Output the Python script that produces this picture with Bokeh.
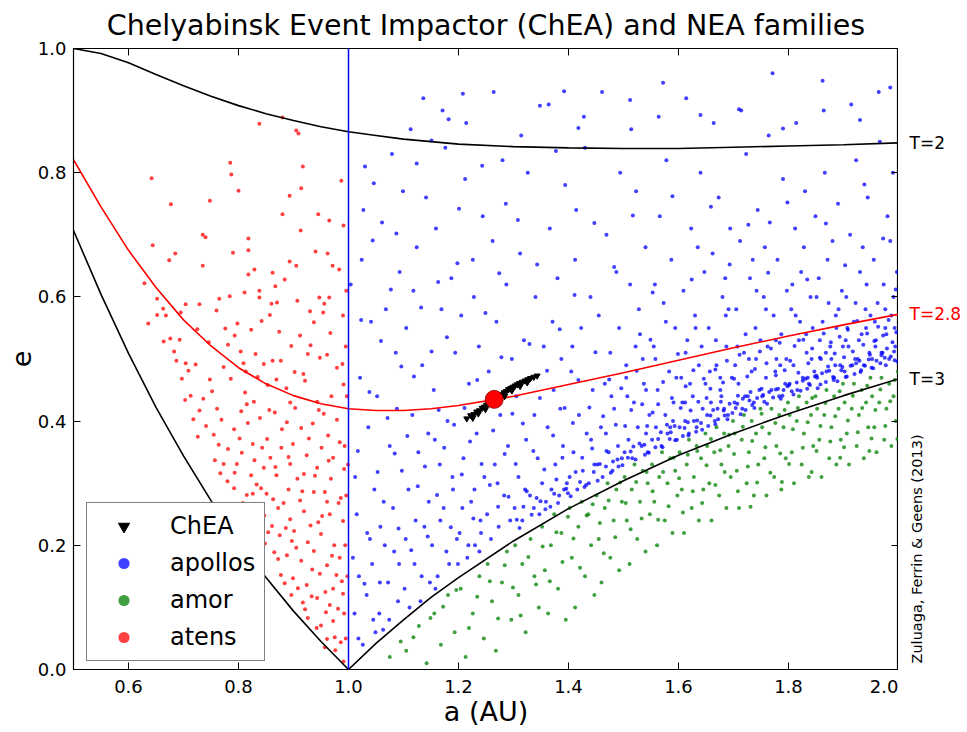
import math
from bokeh.plotting import figure
from bokeh.layouts import row
from bokeh.models import Span, Label, Legend, LegendItem, LinearAxis, FixedTicker, PrintfTickFormatter
from bokeh.embed import file_html
from bokeh.resources import INLINE

FONT = "DejaVu Sans"

title_text = "Chelyabinsk Event Impactor (ChEA) and NEA families"
x_label = "a (AU)"
y_label = "e"
credit_text = "Zuluaga, Ferrin & Geens (2013)"
x_ticks = [0.6, 0.8, 1.0, 1.2, 1.4, 1.6, 1.8, 2.0]
y_ticks = [0.0, 0.2, 0.4, 0.6, 0.8, 1.0]
curve_names = ["T=2", "T=2.8", "T=3"]

# Tisserand curves
curve_a = [0.50, 0.55, 0.60, 0.65, 0.70, 0.75, 0.80, 0.85, 0.90, 0.95, 1.00, 1.05, 1.10, 1.15,
           1.20, 1.30, 1.40, 1.50, 1.60, 1.70, 1.80, 1.90, 2.00]
t2_e = [1.000, 0.992, 0.977, 0.958, 0.940, 0.923, 0.908, 0.895, 0.884, 0.874, 0.866, 0.860, 0.854, 0.850,
        0.846, 0.842, 0.840, 0.839, 0.839, 0.841, 0.843, 0.845, 0.848]
t28_e = [0.821, 0.745, 0.675, 0.615, 0.563, 0.521, 0.486, 0.460, 0.441, 0.428, 0.420, 0.417, 0.417, 0.420,
         0.425, 0.440, 0.459, 0.478, 0.498, 0.518, 0.537, 0.555, 0.572]
t3_e = [0.707, 0.604, 0.509, 0.422, 0.344, 0.272, 0.207, 0.148, 0.094, 0.045, 0.000, 0.042, 0.080, 0.116,
        0.148, 0.207, 0.259, 0.304, 0.345, 0.380, 0.412, 0.441, 0.468]

# Chelyabinsk impactor (ChEA) orbital solutions and nominal orbit
chea_pts = [(1.215, 0.404), (1.222, 0.409), (1.226, 0.405), (1.228, 0.411), (1.233, 0.415), (1.236, 0.412),
            (1.238, 0.417), (1.243, 0.421), (1.247, 0.423), (1.249, 0.419), (1.251, 0.426), (1.255, 0.428),
            (1.259, 0.431), (1.262, 0.428), (1.263, 0.433), (1.267, 0.436), (1.271, 0.438), (1.275, 0.441),
            (1.279, 0.443), (1.283, 0.446), (1.284, 0.440), (1.287, 0.448), (1.291, 0.451), (1.295, 0.453),
            (1.297, 0.449), (1.299, 0.455), (1.303, 0.457), (1.307, 0.459), (1.311, 0.461), (1.312, 0.456),
            (1.316, 0.463), (1.321, 0.465), (1.325, 0.462), (1.326, 0.467), (1.331, 0.469), (1.337, 0.471),
            (1.343, 0.473)]
chea_nominal_a = [1.265]
chea_nominal_e = [0.435]

apollo_pts = [
    (1.004, 0.62), (1.012, 0.31), (1.018, 0.05), (1.021, 0.47), (1.008, 0.18), (1.027, 0.74), (1.033, 0.12),
    (1.036, 0.39), (1.041, 0.56), (1.015, 0.25), (1.045, 0.08), (1.03, 0.81), (1.047, 0.29), (1.024, 0.66),
    (1.039, 0.21),
    (1.052, 0.44), (1.056, 0.09), (1.061, 0.72), (1.064, 0.27), (1.068, 0.58), (1.072, 0.14), (1.075, 0.36),
    (1.079, 0.83), (1.083, 0.19), (1.086, 0.51), (1.09, 0.11), (1.093, 0.64), (1.097, 0.32), (1.058, 0.23),
    (1.088, 0.42), (1.099, 0.77),
    (1.102, 0.13), (1.105, 0.55), (1.109, 0.29), (1.113, 0.87), (1.116, 0.41), (1.12, 0.17), (1.124, 0.68),
    (1.127, 0.35), (1.131, 0.11), (1.134, 0.49), (1.138, 0.23), (1.141, 0.76), (1.145, 0.38), (1.148, 0.14),
    (1.118, 0.61), (1.136, 0.92),
    (1.152, 0.2), (1.155, 0.45), (1.159, 0.71), (1.162, 0.15), (1.166, 0.33), (1.169, 0.58), (1.173, 0.26),
    (1.176, 0.84), (1.18, 0.4), (1.183, 0.17), (1.187, 0.63), (1.19, 0.29), (1.194, 0.51), (1.197, 0.21),
    (1.171, 0.9), (1.157, 0.37),
    (1.202, 0.22), (1.205, 0.57), (1.209, 0.34), (1.212, 0.79), (1.216, 0.18), (1.219, 0.46), (1.223, 0.27),
    (1.226, 0.66), (1.23, 0.2), (1.233, 0.38), (1.237, 0.52), (1.24, 0.24), (1.244, 0.73), (1.247, 0.31),
    (1.214, 0.88), (1.238, 0.19), (1.228, 0.6),
    (1.252, 0.25), (1.255, 0.48), (1.259, 0.21), (1.262, 0.69), (1.266, 0.33), (1.269, 0.56), (1.273, 0.23),
    (1.276, 0.41), (1.28, 0.82), (1.283, 0.28), (1.287, 0.62), (1.29, 0.36), (1.294, 0.24), (1.297, 0.5),
    (1.264, 0.93), (1.286, 0.75), (1.271, 0.3),
    (1.302, 0.26), (1.305, 0.44), (1.309, 0.31), (1.312, 0.67), (1.316, 0.24), (1.319, 0.53), (1.323, 0.37),
    (1.326, 0.8), (1.33, 0.28), (1.333, 0.47), (1.337, 0.26), (1.34, 0.6), (1.344, 0.34), (1.347, 0.25),
    (1.314, 0.86), (1.338, 0.41), (1.321, 0.29),
    (1.352, 0.3), (1.355, 0.52), (1.359, 0.27), (1.362, 0.39), (1.366, 0.71), (1.369, 0.29), (1.373, 0.45),
    (1.376, 0.33), (1.38, 0.63), (1.383, 0.28), (1.387, 0.5), (1.39, 0.36), (1.394, 0.78), (1.397, 0.3),
    (1.364, 0.91), (1.385, 0.42), (1.371, 0.56), (1.392, 0.29),
    (1.402, 0.31), (1.405, 0.48), (1.409, 0.35), (1.412, 0.66), (1.416, 0.29), (1.419, 0.41), (1.423, 0.55),
    (1.426, 0.32), (1.43, 0.84), (1.433, 0.38), (1.437, 0.3), (1.44, 0.6), (1.444, 0.45), (1.447, 0.33),
    (1.414, 0.74), (1.428, 0.89), (1.441, 0.37), (1.407, 0.52),
    (1.452, 0.33), (1.455, 0.57), (1.459, 0.39), (1.462, 0.31), (1.466, 0.46), (1.469, 0.7), (1.473, 0.35),
    (1.476, 0.51), (1.48, 0.32), (1.483, 0.42), (1.487, 0.64), (1.49, 0.36), (1.494, 0.8), (1.497, 0.34),
    (1.461, 0.93), (1.478, 0.44), (1.492, 0.55), (1.468, 0.38),
    (1.502, 0.35), (1.505, 0.49), (1.509, 0.37), (1.512, 0.62), (1.516, 0.34), (1.519, 0.43), (1.523, 0.77),
    (1.526, 0.39), (1.53, 0.54), (1.533, 0.36), (1.537, 0.46), (1.54, 0.68), (1.544, 0.35), (1.547, 0.41),
    (1.514, 0.87), (1.528, 0.58), (1.541, 0.38), (1.507, 0.44), (1.535, 0.5),
    (1.552, 0.37), (1.555, 0.52), (1.559, 0.39), (1.562, 0.45), (1.566, 0.73), (1.569, 0.36), (1.573, 0.59),
    (1.576, 0.41), (1.58, 0.38), (1.583, 0.48), (1.587, 0.66), (1.59, 0.4), (1.594, 0.55), (1.597, 0.37),
    (1.564, 0.89), (1.578, 0.82), (1.591, 0.43), (1.557, 0.62), (1.585, 0.39),
    (1.602, 0.39), (1.605, 0.47), (1.609, 0.61), (1.612, 0.4), (1.616, 0.53), (1.619, 0.38), (1.623, 0.71),
    (1.626, 0.44), (1.63, 0.57), (1.633, 0.39), (1.637, 0.49), (1.64, 0.8), (1.644, 0.42), (1.647, 0.64),
    (1.614, 0.92), (1.628, 0.4), (1.642, 0.52), (1.607, 0.43), (1.635, 0.68), (1.621, 0.46),
    (1.652, 0.41), (1.655, 0.55), (1.659, 0.43), (1.662, 0.67), (1.666, 0.4), (1.669, 0.49), (1.673, 0.76),
    (1.676, 0.45), (1.68, 0.6), (1.683, 0.42), (1.687, 0.52), (1.69, 0.41), (1.694, 0.71), (1.697, 0.47),
    (1.664, 0.88), (1.678, 0.44), (1.691, 0.58), (1.657, 0.48), (1.685, 0.63), (1.671, 0.42),
    (1.702, 0.43), (1.705, 0.58), (1.709, 0.46), (1.712, 0.69), (1.716, 0.42), (1.719, 0.51), (1.723, 0.83),
    (1.726, 0.44), (1.73, 0.63), (1.733, 0.48), (1.737, 0.43), (1.74, 0.55), (1.744, 0.74), (1.747, 0.45),
    (1.714, 0.9), (1.728, 0.5), (1.742, 0.61), (1.707, 0.52), (1.735, 0.66), (1.721, 0.44), (1.749, 0.53),
    (1.752, 0.44), (1.755, 0.6), (1.759, 0.47), (1.762, 0.52), (1.766, 0.72), (1.769, 0.45), (1.773, 0.57),
    (1.776, 0.48), (1.78, 0.66), (1.783, 0.44), (1.787, 0.54), (1.79, 0.79), (1.794, 0.46), (1.797, 0.61),
    (1.764, 0.86), (1.778, 0.5), (1.791, 0.45), (1.757, 0.68), (1.785, 0.49), (1.771, 0.96),
    (1.802, 0.46), (1.805, 0.58), (1.809, 0.49), (1.812, 0.71), (1.816, 0.45), (1.819, 0.53), (1.823, 0.64),
    (1.826, 0.47), (1.83, 0.77), (1.833, 0.51), (1.837, 0.46), (1.84, 0.6), (1.844, 0.55), (1.847, 0.48),
    (1.814, 0.88), (1.828, 0.68), (1.842, 0.5), (1.807, 0.62), (1.835, 0.47), (1.821, 0.56), (1.849, 0.73),
    (1.852, 0.47), (1.855, 0.63), (1.859, 0.5), (1.862, 0.56), (1.866, 0.8), (1.869, 0.48), (1.873, 0.59),
    (1.876, 0.52), (1.88, 0.69), (1.883, 0.47), (1.887, 0.55), (1.89, 0.75), (1.894, 0.49), (1.897, 0.61),
    (1.864, 0.9), (1.878, 0.5), (1.891, 0.58), (1.857, 0.53), (1.885, 0.49), (1.871, 0.66), (1.899, 0.52),
    (1.902, 0.48), (1.905, 0.6), (1.909, 0.52), (1.912, 0.7), (1.916, 0.49), (1.919, 0.56), (1.923, 0.82),
    (1.926, 0.5), (1.93, 0.64), (1.933, 0.54), (1.937, 0.49), (1.94, 0.58), (1.944, 0.76), (1.947, 0.51),
    (1.914, 0.91), (1.928, 0.53), (1.942, 0.62), (1.907, 0.55), (1.935, 0.68), (1.921, 0.5), (1.949, 0.57),
    (1.952, 0.5), (1.955, 0.66), (1.959, 0.53), (1.962, 0.59), (1.966, 0.85), (1.969, 0.51), (1.973, 0.62),
    (1.976, 0.55), (1.98, 0.73), (1.983, 0.5), (1.987, 0.57), (1.99, 0.8), (1.994, 0.52), (1.997, 0.64),
    (1.964, 0.93), (1.978, 0.54), (1.991, 0.6), (1.957, 0.56), (1.985, 0.69), (1.971, 0.51),
    (1.306, 0.241), (1.318, 0.262), (1.333, 0.249), (1.349, 0.271), (1.358, 0.258), (1.374, 0.283),
    (1.381, 0.268), (1.396, 0.291), (1.404, 0.279), (1.421, 0.302), (1.429, 0.294), (1.446, 0.318),
    (1.453, 0.304), (1.468, 0.327), (1.477, 0.317), (1.489, 0.338), (1.498, 0.329), (1.513, 0.351),
    (1.522, 0.338), (1.538, 0.362), (1.546, 0.349), (1.563, 0.371), (1.571, 0.358), (1.586, 0.382),
    (1.594, 0.369), (1.611, 0.389), (1.618, 0.377), (1.634, 0.401), (1.643, 0.386), (1.658, 0.409),
    (1.667, 0.395), (1.682, 0.417), (1.689, 0.403), (1.707, 0.428), (1.713, 0.411), (1.729, 0.433),
    (1.738, 0.421), (1.754, 0.442), (1.761, 0.428), (1.777, 0.451), (1.786, 0.436), (1.801, 0.458),
    (1.809, 0.443), (1.826, 0.465), (1.834, 0.452), (1.851, 0.473), (1.858, 0.459), (1.874, 0.481),
    (1.882, 0.466), (1.898, 0.487), (1.906, 0.472), (1.923, 0.493), (1.931, 0.479), (1.946, 0.499),
    (1.954, 0.485), (1.969, 0.506), (1.977, 0.49), (1.992, 0.512), (1.998, 0.496),
    (1.011, 0.09), (1.019, 0.15), (1.026, 0.04), (1.034, 0.22), (1.043, 0.17), (1.049, 0.06), (1.057, 0.14),
    (1.066, 0.2), (1.074, 0.08), (1.081, 0.26), (1.092, 0.17), (1.104, 0.21), (1.111, 0.1), (1.122, 0.24),
    (1.133, 0.15), (1.146, 0.27), (1.158, 0.13), (1.167, 0.24), (1.178, 0.19), (1.189, 0.31), (1.199, 0.17),
    (1.207, 0.26), (1.218, 0.2), (1.229, 0.29), (1.241, 0.22),
    (1.505, 0.47), (1.522, 0.52), (1.541, 0.45), (1.558, 0.5), (1.577, 0.56), (1.596, 0.47), (1.613, 0.51),
    (1.631, 0.55), (1.649, 0.46), (1.668, 0.53), (1.686, 0.57), (1.703, 0.49), (1.722, 0.54), (1.741, 0.5),
    (1.759, 0.58), (1.777, 0.53), (1.796, 0.5), (1.813, 0.57), (1.832, 0.54), (1.851, 0.6), (1.868, 0.51),
    (1.886, 0.57), (1.904, 0.53), (1.922, 0.59), (1.941, 0.55), (1.958, 0.52), (1.976, 0.58), (1.993, 0.55),
    (1.612, 0.43), (1.676, 0.47),
    (1.017, 0.352), (1.023, 0.563), (1.029, 0.138), (1.038, 0.447), (1.044, 0.691), (1.053, 0.318),
    (1.059, 0.529), (1.063, 0.064), (1.071, 0.405), (1.077, 0.612), (1.084, 0.348), (1.091, 0.227),
    (1.096, 0.488), (1.107, 0.376), (1.114, 0.192), (1.119, 0.472), (1.126, 0.295), (1.132, 0.583),
    (1.139, 0.327), (1.144, 0.214), (1.151, 0.512), (1.161, 0.281), (1.164, 0.418), (1.174, 0.357),
    (1.179, 0.535), (1.186, 0.229), (1.192, 0.394), (1.198, 0.654), (1.206, 0.314), (1.211, 0.421),
    (1.221, 0.367), (1.227, 0.243), (1.234, 0.466), (1.242, 0.331), (1.249, 0.574), (1.257, 0.297),
    (1.263, 0.385), (1.272, 0.262), (1.278, 0.503), (1.284, 0.347), (1.291, 0.278), (1.298, 0.412),
    (1.304, 0.331), (1.311, 0.228), (1.317, 0.396), (1.324, 0.287), (1.329, 0.524), (1.336, 0.352),
    (1.342, 0.276), (1.348, 0.437), (1.356, 0.322), (1.361, 0.481), (1.367, 0.262), (1.372, 0.377),
    (1.378, 0.306), (1.384, 0.548), (1.389, 0.341), (1.393, 0.421), (1.399, 0.284), (1.408, 0.397),
    (1.413, 0.318), (1.418, 0.466), (1.425, 0.341), (1.432, 0.297), (1.438, 0.422), (1.443, 0.356),
    (1.449, 0.511), (1.457, 0.331), (1.463, 0.408), (1.469, 0.352), (1.474, 0.467), (1.481, 0.335),
    (1.486, 0.394), (1.491, 0.327), (1.496, 0.453), (1.503, 0.392), (1.508, 0.341), (1.514, 0.418),
    (1.518, 0.359), (1.524, 0.481), (1.529, 0.364), (1.534, 0.427), (1.539, 0.346), (1.543, 0.392),
    (1.549, 0.531), (1.553, 0.414), (1.558, 0.358), (1.563, 0.427), (1.568, 0.382), (1.572, 0.463),
    (1.579, 0.394), (1.584, 0.371), (1.588, 0.437), (1.593, 0.392), (1.599, 0.508), (1.604, 0.421),
    (1.608, 0.376), (1.613, 0.456), (1.617, 0.398), (1.622, 0.417), (1.627, 0.482), (1.632, 0.383),
    (1.636, 0.431), (1.641, 0.397), (1.646, 0.468), (1.651, 0.437), (1.654, 0.392), (1.658, 0.452),
    (1.663, 0.418), (1.667, 0.483), (1.672, 0.403), (1.677, 0.431), (1.681, 0.462), (1.684, 0.409),
    (1.688, 0.497), (1.693, 0.428), (1.698, 0.413), (1.701, 0.468), (1.704, 0.421), (1.708, 0.441),
    (1.711, 0.507), (1.717, 0.436), (1.722, 0.418), (1.725, 0.472), (1.731, 0.447), (1.734, 0.426),
    (1.739, 0.484), (1.743, 0.437), (1.748, 0.512), (1.751, 0.452), (1.756, 0.431), (1.76, 0.493),
    (1.765, 0.447), (1.768, 0.517), (1.772, 0.438), (1.777, 0.474), (1.781, 0.452), (1.784, 0.526),
    (1.789, 0.441), (1.793, 0.482), (1.798, 0.456), (1.803, 0.497), (1.806, 0.448), (1.811, 0.521),
    (1.815, 0.462), (1.818, 0.478), (1.822, 0.449), (1.827, 0.531), (1.831, 0.468), (1.836, 0.493),
    (1.839, 0.458), (1.843, 0.517), (1.848, 0.472), (1.853, 0.453), (1.857, 0.502), (1.861, 0.477),
    (1.864, 0.541), (1.868, 0.463), (1.872, 0.488), (1.877, 0.527), (1.881, 0.471), (1.884, 0.509),
    (1.889, 0.464), (1.893, 0.536), (1.896, 0.482), (1.901, 0.503), (1.904, 0.471), (1.908, 0.547),
    (1.913, 0.489), (1.917, 0.512), (1.92, 0.476), (1.925, 0.561), (1.929, 0.497), (1.932, 0.482),
    (1.936, 0.523), (1.939, 0.489), (1.943, 0.541), (1.948, 0.507), (1.951, 0.486), (1.956, 0.529),
    (1.96, 0.497), (1.963, 0.552), (1.967, 0.493), (1.972, 0.538), (1.975, 0.502), (1.979, 0.517),
    (1.982, 0.563), (1.986, 0.504), (1.989, 0.527), (1.993, 0.498), (1.996, 0.543),
    (1.046, 0.783), (1.087, 0.702), (1.124, 0.815), (1.163, 0.624), (1.201, 0.742), (1.243, 0.811),
    (1.274, 0.638), (1.308, 0.724), (1.343, 0.652), (1.377, 0.835), (1.411, 0.603), (1.447, 0.719),
    (1.483, 0.648), (1.517, 0.731), (1.553, 0.607), (1.589, 0.762), (1.624, 0.628), (1.659, 0.745),
    (1.693, 0.652), (1.727, 0.716), (1.763, 0.639), (1.798, 0.752), (1.834, 0.628), (1.868, 0.718),
    (1.903, 0.651), (1.938, 0.781), (1.972, 0.694), (1.995, 0.612), (1.392, 0.931), (1.572, 0.945),
    (1.862, 0.948), (1.151, 0.852), (1.182, 0.886), (1.208, 0.927), (1.348, 0.908), (1.418, 0.872),
    (1.512, 0.917), (1.64, 0.893), (1.71, 0.902), (1.79, 0.871), (1.93, 0.885), (1.985, 0.937),
]

amor_pts = [
    (1.075, 0.02), (1.095, 0.045),
    (1.105, 0.03), (1.128, 0.07), (1.142, 0.01),
    (1.156, 0.09), (1.168, 0.04), (1.181, 0.12), (1.193, 0.06),
    (1.204, 0.13), (1.213, 0.02), (1.226, 0.09), (1.238, 0.15), (1.246, 0.05),
    (1.253, 0.17), (1.261, 0.11), (1.268, 0.03), (1.279, 0.14), (1.288, 0.19), (1.296, 0.08),
    (1.303, 0.2), (1.309, 0.12), (1.316, 0.17), (1.322, 0.06), (1.331, 0.21), (1.338, 0.15), (1.346, 0.1),
    (1.352, 0.23), (1.357, 0.16), (1.363, 0.09), (1.368, 0.2), (1.374, 0.25), (1.381, 0.13), (1.387, 0.22),
    (1.395, 0.08),
    (1.402, 0.26), (1.406, 0.18), (1.412, 0.1), (1.418, 0.23), (1.424, 0.27), (1.43, 0.15), (1.436, 0.25),
    (1.441, 0.2), (1.447, 0.12),
    (1.451, 0.28), (1.455, 0.21), (1.46, 0.14), (1.466, 0.26), (1.471, 0.3), (1.476, 0.18), (1.482, 0.24),
    (1.487, 0.29), (1.492, 0.16), (1.497, 0.27),
    (1.502, 0.31), (1.506, 0.24), (1.511, 0.17), (1.515, 0.29), (1.52, 0.33), (1.525, 0.21), (1.53, 0.27),
    (1.535, 0.32), (1.54, 0.19), (1.544, 0.3), (1.548, 0.25),
    (1.552, 0.33), (1.556, 0.27), (1.561, 0.2), (1.565, 0.31), (1.57, 0.35), (1.575, 0.24), (1.58, 0.3),
    (1.585, 0.34), (1.589, 0.22), (1.594, 0.32), (1.598, 0.28),
    (1.602, 0.35), (1.606, 0.29), (1.61, 0.22), (1.615, 0.33), (1.619, 0.37), (1.624, 0.26), (1.628, 0.31),
    (1.633, 0.36), (1.637, 0.24), (1.641, 0.34), (1.645, 0.29), (1.649, 0.38),
    (1.652, 0.36), (1.656, 0.3), (1.66, 0.24), (1.665, 0.35), (1.669, 0.39), (1.674, 0.28), (1.678, 0.33),
    (1.683, 0.38), (1.687, 0.26), (1.691, 0.36), (1.695, 0.31), (1.699, 0.4),
    (1.702, 0.38), (1.706, 0.32), (1.71, 0.26), (1.715, 0.37), (1.719, 0.41), (1.724, 0.3), (1.728, 0.35),
    (1.733, 0.4), (1.737, 0.28), (1.741, 0.38), (1.745, 0.33), (1.749, 0.42),
    (1.752, 0.39), (1.756, 0.34), (1.76, 0.28), (1.765, 0.38), (1.769, 0.42), (1.774, 0.31), (1.778, 0.36),
    (1.783, 0.41), (1.787, 0.29), (1.791, 0.39), (1.795, 0.34), (1.799, 0.43),
    (1.802, 0.41), (1.806, 0.35), (1.81, 0.3), (1.815, 0.4), (1.819, 0.44), (1.824, 0.33), (1.828, 0.38),
    (1.833, 0.43), (1.837, 0.31), (1.841, 0.41), (1.845, 0.36), (1.849, 0.44),
    (1.852, 0.42), (1.856, 0.37), (1.86, 0.31), (1.865, 0.41), (1.869, 0.45), (1.874, 0.34), (1.878, 0.39),
    (1.883, 0.44), (1.887, 0.33), (1.891, 0.42), (1.895, 0.37), (1.899, 0.46),
    (1.902, 0.43), (1.906, 0.38), (1.91, 0.33), (1.915, 0.42), (1.919, 0.46), (1.924, 0.36), (1.928, 0.41),
    (1.933, 0.45), (1.937, 0.34), (1.941, 0.43), (1.945, 0.39), (1.949, 0.47),
    (1.952, 0.44), (1.956, 0.39), (1.96, 0.35), (1.965, 0.43), (1.969, 0.47), (1.974, 0.37), (1.978, 0.42),
    (1.983, 0.46), (1.987, 0.36), (1.991, 0.44), (1.995, 0.4), (1.999, 0.48),
    (1.118, 0.052), (1.149, 0.083), (1.172, 0.101), (1.196, 0.128), (1.219, 0.067), (1.234, 0.117),
    (1.257, 0.142), (1.272, 0.082), (1.284, 0.168), (1.299, 0.132), (1.313, 0.087), (1.327, 0.181),
    (1.341, 0.137), (1.353, 0.198), (1.366, 0.142), (1.378, 0.221), (1.389, 0.173), (1.399, 0.246),
    (1.409, 0.211), (1.421, 0.164), (1.433, 0.248), (1.444, 0.266), (1.457, 0.236), (1.464, 0.187),
    (1.473, 0.272), (1.485, 0.213), (1.494, 0.301), (1.504, 0.268), (1.513, 0.226), (1.523, 0.302),
    (1.533, 0.243), (1.542, 0.318), (1.553, 0.287), (1.563, 0.241), (1.572, 0.318), (1.582, 0.263),
    (1.591, 0.341), (1.601, 0.308), (1.608, 0.253), (1.617, 0.346), (1.626, 0.287), (1.634, 0.352),
    (1.643, 0.268), (1.651, 0.329), (1.659, 0.371), (1.667, 0.297), (1.676, 0.353), (1.684, 0.318),
    (1.692, 0.378), (1.701, 0.347), (1.708, 0.287), (1.717, 0.391), (1.726, 0.327), (1.734, 0.368),
    (1.743, 0.301), (1.751, 0.412), (1.758, 0.358), (1.767, 0.317), (1.776, 0.397), (1.785, 0.348),
    (1.793, 0.418), (1.801, 0.331), (1.808, 0.387), (1.817, 0.421), (1.826, 0.357), (1.835, 0.398),
    (1.843, 0.437), (1.851, 0.352), (1.858, 0.392), (1.867, 0.429), (1.876, 0.367), (1.885, 0.408),
    (1.893, 0.448), (1.901, 0.358), (1.908, 0.401), (1.917, 0.441), (1.926, 0.382), (1.934, 0.421),
    (1.943, 0.457), (1.951, 0.372), (1.958, 0.418), (1.967, 0.451), (1.976, 0.392), (1.985, 0.432),
    (1.993, 0.466), (1.998, 0.371), (1.731, 0.262), (1.788, 0.302), (1.842, 0.318), (1.894, 0.341),
    (1.947, 0.352),
]

aten_pts = [
    (0.88, 0.889), (0.838, 0.879), (0.909, 0.863), (0.905, 0.868), (0.785, 0.816), (0.787, 0.797),
    (0.642, 0.791), (0.917, 0.81), (0.987, 0.787), (0.914, 0.775), (0.80, 0.771), (0.893, 0.763),
    (0.748, 0.755), (0.677, 0.749), (0.88, 0.733), (0.945, 0.733), (0.965, 0.723), (0.991, 0.715),
    (0.913, 0.707), (0.74, 0.696), (0.735, 0.70), (0.818, 0.694), (0.644, 0.683), (0.818, 0.675),
    (0.79, 0.671), (0.94, 0.673), (0.962, 0.67), (0.685, 0.67), (0.674, 0.659), (0.893, 0.657),
    (0.735, 0.65), (0.829, 0.644), (0.862, 0.639), (0.905, 0.65), (0.983, 0.644), (0.971, 0.65),
    (0.818, 0.636), (0.884, 0.628), (0.629, 0.622), (0.867, 0.617), (0.811, 0.607), (0.838, 0.61),
    (0.765, 0.597), (0.784, 0.601), (0.838, 0.599), (0.907, 0.594), (0.947, 0.599), (0.965, 0.599),
    (0.652, 0.597), (0.704, 0.588), (0.729, 0.588), (0.86, 0.589), (0.87, 0.591), (0.956, 0.589),
    (0.663, 0.581), (0.668, 0.57), (0.695, 0.575), (0.76, 0.578), (0.93, 0.577), (0.99, 0.57),
    (0.636, 0.557), (0.664, 0.528), (0.676, 0.533), (0.693, 0.531), (0.687, 0.497), (0.704, 0.493),
    (0.709, 0.481), (0.722, 0.491), (0.703, 0.434), (0.718, 0.403), (0.726, 0.375), (0.752, 0.448),
    (0.736, 0.436), (0.761, 0.42), (0.755, 0.378), (0.764, 0.362), (0.767, 0.316), (0.78, 0.303),
    (0.776, 0.549), (0.781, 0.523), (0.793, 0.538), (0.804, 0.512), (0.813, 0.48), (0.823, 0.547),
    (0.842, 0.561), (0.857, 0.571), (0.874, 0.544), (0.896, 0.521), (0.912, 0.538), (0.937, 0.559),
    (0.954, 0.575), (0.961, 0.507), (0.979, 0.486), (0.991, 0.459), (0.948, 0.502), (0.926, 0.508),
    (0.902, 0.479), (0.877, 0.497), (0.846, 0.492), (0.853, 0.458), (0.828, 0.431), (0.805, 0.416),
    (0.792, 0.387), (0.817, 0.397), (0.839, 0.405), (0.866, 0.414), (0.888, 0.398), (0.914, 0.389),
    (0.935, 0.396), (0.963, 0.377), (0.984, 0.366), (0.781, 0.355), (0.806, 0.349), (0.826, 0.363),
    (0.852, 0.371), (0.878, 0.357), (0.899, 0.363), (0.924, 0.345), (0.951, 0.357), (0.972, 0.341),
    (0.992, 0.323), (0.797, 0.331), (0.823, 0.313), (0.846, 0.325), (0.869, 0.313), (0.894, 0.331),
    (0.919, 0.315), (0.943, 0.325), (0.968, 0.307), (0.792, 0.292), (0.815, 0.281), (0.841, 0.292),
    (0.863, 0.274), (0.891, 0.29), (0.912, 0.272), (0.937, 0.286), (0.961, 0.27), (0.986, 0.276),
    (0.821, 0.258), (0.847, 0.248), (0.872, 0.26), (0.894, 0.242), (0.919, 0.255), (0.945, 0.237),
    (0.966, 0.25), (0.99, 0.239), (0.854, 0.221), (0.875, 0.216), (0.901, 0.223), (0.926, 0.205),
    (0.95, 0.218), (0.974, 0.2), (0.865, 0.189), (0.888, 0.184), (0.914, 0.175), (0.937, 0.191),
    (0.961, 0.168), (0.984, 0.18), (0.877, 0.152), (0.899, 0.147), (0.924, 0.136), (0.948, 0.154),
    (0.972, 0.13), (0.896, 0.12), (0.917, 0.108), (0.943, 0.115), (0.966, 0.104), (0.99, 0.122),
    (0.926, 0.083), (0.95, 0.071), (0.972, 0.078), (0.961, 0.049), (0.986, 0.044), (0.991, 0.013),
    (0.812, 0.446), (0.833, 0.298), (0.858, 0.341), (0.882, 0.268), (0.907, 0.307), (0.931, 0.232),
    (0.957, 0.286), (0.978, 0.152), (0.869, 0.467), (0.894, 0.43), (0.921, 0.465), (0.946, 0.418),
    (0.969, 0.44), (0.905, 0.196), (0.958, 0.125), (0.981, 0.098), (0.934, 0.161), (0.886, 0.228),
    (0.851, 0.283), (0.829, 0.337), (0.995, 0.52), (0.997, 0.44), (0.993, 0.36), (0.996, 0.28),
    (0.994, 0.2), (0.998, 0.15), (0.992, 0.09), (0.996, 0.61), (0.999, 0.33), (0.995, 0.05),
    (0.652, 0.571), (0.683, 0.512), (0.697, 0.468), (0.713, 0.441), (0.729, 0.417), (0.741, 0.392),
    (0.748, 0.467), (0.757, 0.337), (0.769, 0.402), (0.773, 0.331), (0.786, 0.468), (0.793, 0.317),
    (0.802, 0.372), (0.808, 0.268), (0.815, 0.427), (0.826, 0.283), (0.831, 0.508), (0.836, 0.239),
    (0.843, 0.357), (0.848, 0.203), (0.856, 0.418), (0.861, 0.231), (0.867, 0.326), (0.872, 0.178),
    (0.879, 0.387), (0.884, 0.139), (0.891, 0.342), (0.897, 0.207), (0.903, 0.421), (0.908, 0.131),
    (0.916, 0.287), (0.921, 0.097), (0.928, 0.372), (0.933, 0.118), (0.939, 0.312), (0.942, 0.067),
    (0.952, 0.247), (0.955, 0.412), (0.959, 0.092), (0.964, 0.336), (0.97, 0.183), (0.975, 0.052),
    (0.979, 0.402), (0.982, 0.268), (0.988, 0.142), (0.989, 0.492), (0.976, 0.031), (0.957, 0.036),
    (0.943, 0.431), (0.918, 0.476), (0.887, 0.453), (0.862, 0.497), (0.835, 0.471), (0.809, 0.493),
    (0.773, 0.487), (0.746, 0.527), (0.725, 0.548), (0.798, 0.557), (0.931, 0.522), (0.967, 0.542),
]

apollo_a = [pt[0] for pt in apollo_pts]
apollo_e = [pt[1] for pt in apollo_pts]
amor_a = [pt[0] for pt in amor_pts]
amor_e = [pt[1] for pt in amor_pts]
aten_a = [pt[0] for pt in aten_pts]
aten_e = [pt[1] for pt in aten_pts]
chea_a = [pt[0] for pt in chea_pts]
chea_e = [pt[1] for pt in chea_pts]

FRAME_W, FRAME_H = 825, 621
TOP, BOTTOM = 47, 64

p = figure(frame_width=FRAME_W, frame_height=FRAME_H, x_range=(0.5, 2.0), y_range=(0.0, 1.0),
           output_backend="svg", toolbar_location=None,
           min_border_left=73, min_border_right=0, min_border_top=TOP, min_border_bottom=BOTTOM)
p.background_fill_color = "white"
p.border_fill_color = "white"
p.outline_line_color = "black"
p.outline_line_width = 1.2
p.xgrid.visible = False
p.ygrid.visible = False

p.title.text = title_text
p.title.text_font = FONT
p.title.text_font_size = "28.5px"
p.title.text_font_style = "normal"
p.title.text_color = "black"
p.title.align = "center"
p.title.standoff = 13

for ax, ticks in ((p.xaxis[0], x_ticks), (p.yaxis[0], y_ticks)):
    ax.ticker = FixedTicker(ticks=ticks)
    ax.formatter = PrintfTickFormatter(format="%.1f")
    ax.major_tick_in = 7
    ax.major_tick_out = 0
    ax.minor_tick_line_color = None
    ax.axis_line_color = "black"
    ax.major_tick_line_color = "black"
    ax.major_label_text_font = FONT
    ax.major_label_text_font_size = "18px"
    ax.major_label_text_color = "black"
    ax.axis_label_text_font = FONT
    ax.axis_label_text_font_size = "27px"
    ax.axis_label_text_font_style = "normal"
    ax.axis_label_text_color = "black"

p.xaxis.axis_label = x_label
p.yaxis.axis_label = y_label
p.xaxis.major_label_standoff = 10
p.xaxis.axis_label_standoff = 0
p.yaxis.major_label_standoff = 7
p.yaxis.axis_label_standoff = 4

top_axis = LinearAxis(ticker=FixedTicker(ticks=x_ticks), major_tick_in=7, major_tick_out=0,
                      minor_tick_line_color=None, major_label_text_color=None,
                      major_label_text_font_size="1px", major_label_standoff=0)
right_axis = LinearAxis(ticker=FixedTicker(ticks=y_ticks), major_tick_in=7, major_tick_out=0,
                        minor_tick_line_color=None, major_label_text_color=None,
                        major_label_text_font_size="1px", major_label_standoff=0)
p.add_layout(top_axis, "above")
p.add_layout(right_axis, "right")

# NEA families
r_apollo = p.scatter(apollo_a, apollo_e, marker="circle", size=4, fill_color="#0000ff",
                     fill_alpha=0.75, line_color=None)
r_amor = p.scatter(amor_a, amor_e, marker="circle", size=4, fill_color="#008000",
                   fill_alpha=0.75, line_color=None)
r_aten = p.scatter(aten_a, aten_e, marker="circle", size=4, fill_color="#ff0000",
                   fill_alpha=0.75, line_color=None)

# Tisserand curves
p.line(curve_a, t2_e, line_color="black", line_width=1.6)
p.line(curve_a, t28_e, line_color="#ff0000", line_width=1.6)
p.line(curve_a, t3_e, line_color="black", line_width=1.6)

p.add_layout(Span(location=1.0, dimension="height", line_color="#0000ff", line_width=1.5))

r_chea = p.scatter(chea_a, chea_e, marker="inverted_triangle", size=6, fill_color="black",
                   line_color="black")
p.scatter(chea_nominal_a, chea_nominal_e, marker="circle", size=18, fill_color="#ff0000",
          line_color="#800000", line_width=0.8)

legend = Legend(items=[LegendItem(label="ChEA", renderers=[r_chea]),
                       LegendItem(label="apollos", renderers=[r_apollo]),
                       LegendItem(label="amor", renderers=[r_amor]),
                       LegendItem(label="atens", renderers=[r_aten])],
                location=(13, 8), orientation="vertical")
legend.label_text_font = FONT
legend.label_text_font_size = "24px"
legend.label_text_color = "black"
legend.label_height = 28
legend.glyph_height = 28
legend.glyph_width = 55
legend.label_standoff = 19
legend.spacing = 9
legend.padding = 9
legend.margin = 0
legend.border_line_color = "black"
legend.border_line_width = 1.5
legend.background_fill_color = "white"
legend.background_fill_alpha = 1.0
p.add_layout(legend)

# Narrow side panel (same vertical scale) holding the curve labels and the credit line
side = figure(frame_width=64, frame_height=FRAME_H, x_range=(0.0, 1.0), y_range=(0.0, 1.0),
              output_backend="svg", toolbar_location=None, x_axis_type=None, y_axis_type=None,
              min_border_left=0, min_border_right=0, min_border_top=TOP, min_border_bottom=BOTTOM)
side.outline_line_color = None
side.background_fill_color = "white"
side.border_fill_color = "white"

for txt, yv, col in zip(curve_names, (t2_e[-1], t28_e[-1], t3_e[-1]), ("black", "#ff0000", "black")):
    side.add_layout(Label(x=0.0, y=yv, x_offset=11, text=txt, text_font=FONT,
                          text_font_size="17px", text_color=col, text_baseline="middle"))

side.add_layout(Label(x=0.0, y=0.0, x_offset=18, y_offset=6, angle=math.pi / 2,
                      text=credit_text, text_font=FONT, text_font_size="14.5px", text_color="black",
                      text_align="left", text_baseline="middle"))

layout = row(p, side)
open("out.html", "w").write(file_html(layout, INLINE))
